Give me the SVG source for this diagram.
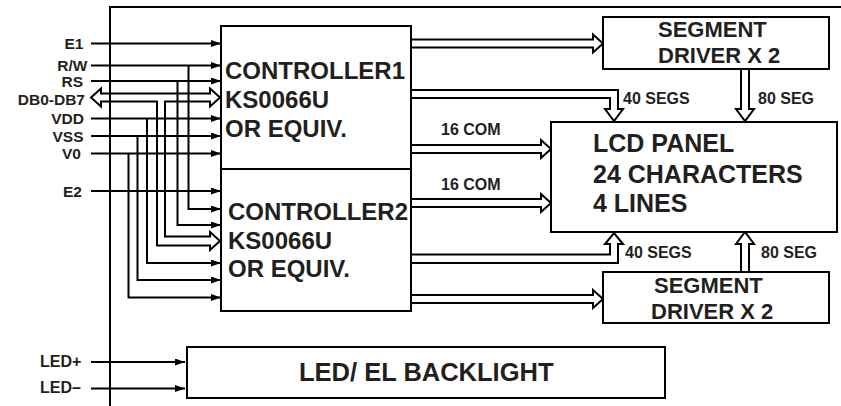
<svg xmlns="http://www.w3.org/2000/svg" width="841" height="406" viewBox="0 0 841 406">
<style>
.box{fill:#fff;stroke:#000;stroke-width:2}
.ln{fill:none;stroke:#000;stroke-width:2}
.bus{fill:none;stroke:#000;stroke-width:2;stroke-linejoin:miter}
.arr{marker-end:url(#ah)}
text{font-family:"Liberation Sans",Arial,sans-serif;font-weight:bold;fill:#231f20}
.big{font-size:24px}
.lcd{font-size:25px}
.bl{font-size:25.5px}
.mid{font-size:22px}
.sm{font-size:16px}
.lbl{font-size:15.5px;text-anchor:end}
</style>
<defs>
<marker id="ah" markerUnits="userSpaceOnUse" markerWidth="11" markerHeight="8" refX="10" refY="3.5" orient="auto">
<path d="M0,0 L10,3.5 L0,7 z" fill="#000"/>
</marker>
</defs>
<g id="frame">
<path class="ln" d="M110,406 V7 H841"/>
</g>
<g id="connectors">
<path class="ln arr" d="M91,43.5 H221"/>
<path class="ln arr" d="M91,65.5 H221"/>
<path class="ln arr" d="M188.5,65.5 V209 H221"/>
<path class="ln arr" d="M91,81 H221"/>
<path class="ln arr" d="M177.5,81 V225 H221"/>
<path class="ln arr" d="M91,118.5 H221"/>
<path class="ln arr" d="M147,118.5 V263 H221"/>
<path class="ln arr" d="M91,136 H221"/>
<path class="ln arr" d="M137.5,136 V280 H221"/>
<path class="ln arr" d="M91,153.5 H221"/>
<path class="ln arr" d="M128.5,153.5 V297.5 H221"/>
<path class="ln arr" d="M91,191 H221"/>
<path class="bus" d="M101,93.5 H210 V88.5 L220,97.5 L210,106.5 V101.5 H165 V236.5 H210 V232 L220,241 L210,250 V245.5 H157 V101.5 H101 V106.5 L91,97.5 L101,88.5 Z"/>
<path class="bus" d="M411,39.5 H593 V34.5 L603,43.5 L593,52.5 V47.5 H411"/>
<path class="bus" d="M411,90 H618 V109 H623 L614,121 L605,109 H610 V98 H411"/>
<path class="bus" d="M411,145 H541 V140 L551,149 L541,158 V153 H411"/>
<path class="bus" d="M411,199 H541 V194 L551,203 L541,212 V207 H411"/>
<path class="bus" d="M411,254.5 H610 V244 H605 L614,233 L623,244 H618 V263 H411"/>
<path class="bus" d="M411,295 H593 V290 L603,299 L593,308 V303 H411"/>
<path class="bus" d="M741,69 V109 H736 L745,121 L754,109 H749 V69"/>
<path class="bus" d="M741,272 V244 H736 L745,232 L754,244 H749 V272"/>
<path class="ln arr" d="M91,362 H185"/>
<path class="ln arr" d="M91,388.5 H185"/>
<text class="sm" x="441" y="135">16 COM</text>
<text class="sm" x="441" y="190">16 COM</text>
<text class="sm" x="623" y="104">40 SEGS</text>
<text class="sm" x="758" y="104">80 SEG</text>
<text class="sm" x="625" y="258">40 SEGS</text>
<text class="sm" x="761" y="258">80 SEG</text>
</g>
<g id="inputs">
<text class="lbl" x="83.5" y="49">E1</text>
<text class="lbl" x="87.5" y="71">R/W</text>
<text class="lbl" x="83" y="86.5">RS</text>
<text class="lbl" x="85" y="104.5">DB0-DB7</text>
<text class="lbl" x="84" y="124">VDD</text>
<text class="lbl" x="83.5" y="141.5">VSS</text>
<text class="lbl" x="81" y="159">V0</text>
<text class="lbl" x="82" y="196.5">E2</text>
<text class="sm" x="40" y="367">LED+</text>
<text class="sm" x="40" y="393">LED–</text>
</g>
<g id="controller1">
<rect class="box" x="221" y="26" width="190" height="143"/>
<text class="big" x="225" y="79">CONTROLLER1</text>
<text class="big" x="225" y="108">KS0066U</text>
<text class="big" x="225" y="137">OR EQUIV.</text>
</g>
<g id="controller2">
<rect class="box" x="221" y="169" width="190" height="142"/>
<text class="big" x="228" y="220">CONTROLLER2</text>
<text class="big" x="228" y="249">KS0066U</text>
<text class="big" x="228" y="277">OR EQUIV.</text>
</g>
<g id="segdriver1">
<rect class="box" x="603" y="17" width="226" height="52"/>
<text class="mid" x="658" y="37">SEGMENT</text>
<text class="mid" x="658" y="63">DRIVER X 2</text>
</g>
<g id="lcdpanel">
<rect class="box" x="551" y="122" width="286" height="110"/>
<text class="lcd" x="593" y="152">LCD PANEL</text>
<text class="lcd" x="593" y="183">24 CHARACTERS</text>
<text class="lcd" x="593" y="212">4 LINES</text>
</g>
<g id="segdriver2">
<rect class="box" x="603" y="272" width="226" height="51"/>
<text class="mid" x="654" y="293">SEGMENT</text>
<text class="mid" x="651" y="319">DRIVER X 2</text>
</g>
<g id="backlight">
<rect class="box" x="187" y="347" width="478" height="51"/>
<text class="bl" x="299" y="381">LED/ EL BACKLIGHT</text>
</g>
</svg>
